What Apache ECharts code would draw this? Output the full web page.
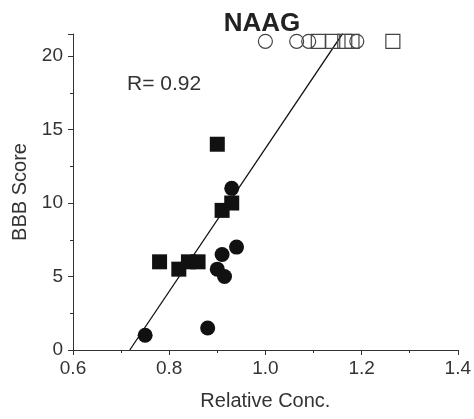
<!DOCTYPE html>
<html>
<head>
<meta charset="utf-8">
<style>
	html, body { margin: 0; padding: 0; background: #fff; }
	#chart { width: 474px; height: 419px; }
</style>
<script src="https://cdn.jsdelivr.net/npm/echarts@6/dist/echarts.min.js"></script>
</head>
<body>
<div id="chart"></div>
<script>
// points: [relative conc., BBB score]
const filledSquares = [ [ 0.90, 14 ], [ 0.78, 6 ], [ 0.82, 5.5 ], [ 0.84, 6 ], [ 0.86, 6 ], [ 0.91, 9.5 ], [ 0.93, 10 ] ];
const filledCircles = [ [ 0.75, 1 ], [ 0.88, 1.5 ], [ 0.90, 5.5 ], [ 0.915, 5 ], [ 0.91, 6.5 ], [ 0.94, 7 ], [ 0.93, 11 ] ];
const openCircles = [ [ 1.00, 21 ], [ 1.065, 21 ], [ 1.09, 21 ], [ 1.19, 21 ] ];
const openSquares = [ [ 1.11, 21 ], [ 1.14, 21 ], [ 1.165, 21 ], [ 1.18, 21 ], [ 1.265, 21 ] ];
const fitLine = [ [ 0.718, 0 ], [ 1.161, 21.55 ] ];
const rText = "R= 0.92";

const font = "Liberation Sans, Arial, sans-serif";
const axisColor = "#333";

const chart = echarts.init( document.getElementById( "chart" ) );

function marks( data, symbol, filled ) {
	return {
		type: "scatter",
		data,
		symbol,
		symbolSize: filled ? 15 : 14,
		itemStyle: filled
			? { color: "#111", opacity: 1 }
			: { color: "rgba(0,0,0,0)", borderColor: "#444", borderWidth: 1.2, opacity: 1 },
		z: 3
	};
}

chart.setOption( {
	animation: false,
	title: [
		{
			text: "NAAG",
			left: 257,
			textAlign: "center",
			top: 6,
			textStyle: { fontFamily: font, fontSize: 26, fontWeight: "bold", color: "#222" }
		},
		{
			text: rText,
			left: 122,
			top: 69,
			textStyle: { fontFamily: font, fontSize: 21, fontWeight: "normal", color: "#333" }
		}
	],
	grid: { left: 73, right: 16, top: 34, bottom: 69 },
	xAxis: {
		type: "value",
		min: 0.6,
		max: 1.4,
		interval: 0.2,
		name: "Relative Conc.",
		nameLocation: "middle",
		nameGap: 41,
		nameTextStyle: { fontFamily: font, fontSize: 20, color: "#333" },
		axisLine: { show: true, lineStyle: { color: axisColor, width: 1 } },
		axisTick: { show: true, length: 5, lineStyle: { color: axisColor } },
		minorTick: { show: true, splitNumber: 2, length: 3, lineStyle: { color: axisColor } },
		splitLine: { show: false },
		axisLabel: { fontFamily: font, fontSize: 19, color: "#333", margin: 9, formatter: v => v.toFixed( 1 ) }
	},
	yAxis: {
		type: "value",
		min: 0,
		max: 21.5,
		interval: 5,
		name: "BBB Score",
		nameLocation: "middle",
		nameGap: 40,
		nameTextStyle: { fontFamily: font, fontSize: 20, color: "#333" },
		axisLine: { show: true, lineStyle: { color: axisColor, width: 1 } },
		axisTick: { show: true, length: 5, lineStyle: { color: axisColor } },
		minorTick: { show: true, splitNumber: 2, length: 3, lineStyle: { color: axisColor } },
		splitLine: { show: false },
		axisLabel: { fontFamily: font, fontSize: 19, color: "#333", margin: 10, showMaxLabel: false }
	},
	series: [
		{
			type: "line",
			data: fitLine,
			symbol: "none",
			lineStyle: { color: "#111", width: 1.3 },
			z: 2
		},
		marks( filledSquares, "rect", true ),
		marks( filledCircles, "circle", true ),
		marks( openCircles, "circle", false ),
		marks( openSquares, "rect", false )
	]
} );
</script>
</body>
</html>
